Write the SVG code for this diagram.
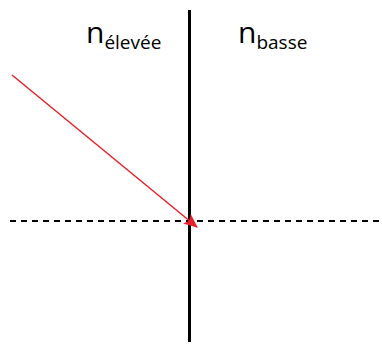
<svg xmlns="http://www.w3.org/2000/svg" width="382" height="352" viewBox="0 0 382 352">
<style>
.t{font-family:"Open Sans","Liberation Sans",sans-serif;fill:#000}
.big{font-size:30px}
.sub{font-size:19px}
</style>
<defs>
<marker id="ah" markerWidth="14" markerHeight="12" refX="13" refY="6" orient="auto" markerUnits="userSpaceOnUse">
<path d="M0,0 L14,6 L0,12 L3,6 Z" fill="#e8202a"/>
</marker>
</defs>
<rect width="382" height="352" fill="#fff"/>
<g id="interface">
<line x1="189.5" y1="10" x2="189.5" y2="342" stroke="#000" stroke-width="3"/>
</g>
<g id="normal">
<line x1="10" y1="221" x2="382" y2="221" stroke="#000" stroke-width="2" stroke-dasharray="6,5"/>
</g>
<g id="connectors">
<line x1="12" y1="75" x2="197" y2="227" stroke="#e8202a" stroke-width="1.5" marker-end="url(#ah)"/>
</g>
<g id="label-high">
<text class="t" x="86" y="43"><tspan class="big">n</tspan><tspan class="sub" dy="6">élevée</tspan></text>
</g>
<g id="label-low">
<text class="t" x="238" y="43"><tspan class="big">n</tspan><tspan class="sub" dy="6">basse</tspan></text>
</g>
</svg>
